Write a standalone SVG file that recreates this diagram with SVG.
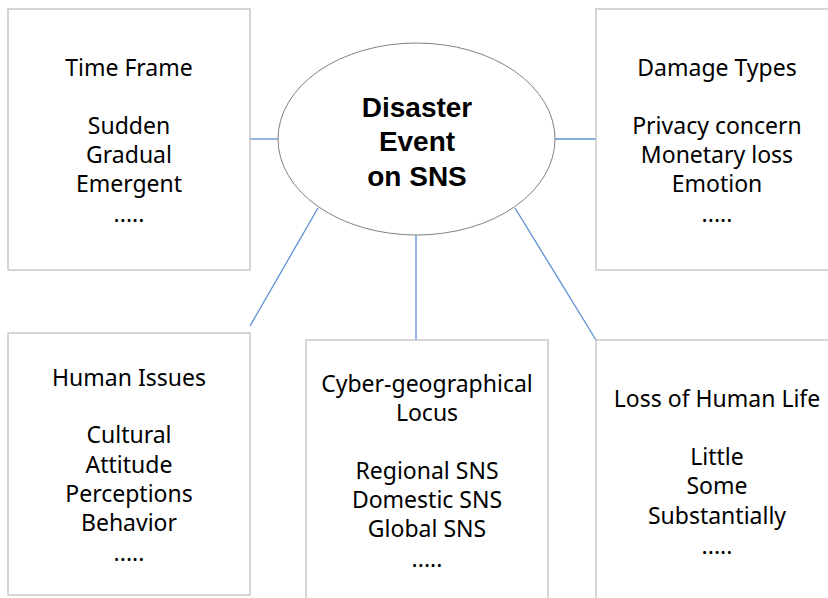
<svg xmlns="http://www.w3.org/2000/svg" width="828" height="598" viewBox="0 0 828 598">
<style>
.box{fill:#ffffff;stroke:#c0c0c0;stroke-width:1.3}
.t{font-family:"Noto Sans","Open Sans",sans-serif;font-size:23px;fill:#000;text-anchor:middle}
.b{font-family:"Liberation Sans",Arial,sans-serif;font-size:28px;font-weight:bold;fill:#000;text-anchor:middle}
.c{stroke:#5b8fd6;stroke-width:1.3;fill:none}
</style>
<rect width="828" height="598" fill="#ffffff"/>
<g id="connectors">
<line class="c" x1="250" y1="139" x2="278" y2="139"/>
<line class="c" x1="555" y1="139" x2="596" y2="139"/>
<line class="c" x1="318" y1="208" x2="250" y2="326"/>
<line class="c" x1="416" y1="235" x2="416" y2="340"/>
<line class="c" x1="515" y1="208" x2="596" y2="340"/>
</g>
<g id="center">
<ellipse cx="416.5" cy="139" rx="138.5" ry="96" fill="#ffffff" stroke="#808080" stroke-width="1"/>
<text class="b" x="417" y="117">Disaster</text>
<text class="b" x="417" y="151">Event</text>
<text class="b" x="417" y="186">on SNS</text>
</g>
<g id="time-frame">
<rect class="box" x="8" y="9" width="242" height="261"/>
<text class="t" x="129" y="76">Time Frame</text>
<text class="t" x="129" y="134">Sudden</text>
<text class="t" x="129" y="163">Gradual</text>
<text class="t" x="129" y="192">Emergent</text>
<text class="t" x="129" y="222">.....</text>
</g>
<g id="damage-types">
<rect class="box" x="596" y="9" width="242" height="261"/>
<text class="t" x="717" y="76">Damage Types</text>
<text class="t" x="717" y="134">Privacy concern</text>
<text class="t" x="717" y="163">Monetary loss</text>
<text class="t" x="717" y="192">Emotion</text>
<text class="t" x="717" y="222">.....</text>
</g>
<g id="human-issues">
<rect class="box" x="8" y="333" width="242" height="262"/>
<text class="t" x="129" y="386">Human Issues</text>
<text class="t" x="129" y="443">Cultural</text>
<text class="t" x="129" y="473">Attitude</text>
<text class="t" x="129" y="502">Perceptions</text>
<text class="t" x="129" y="531">Behavior</text>
<text class="t" x="129" y="561">.....</text>
</g>
<g id="cyber-locus">
<rect class="box" x="306" y="340" width="242" height="270"/>
<text class="t" x="427" y="392">Cyber-geographical</text>
<text class="t" x="427" y="421">Locus</text>
<text class="t" x="427" y="479">Regional SNS</text>
<text class="t" x="427" y="508">Domestic SNS</text>
<text class="t" x="427" y="537">Global SNS</text>
<text class="t" x="427" y="567">.....</text>
</g>
<g id="loss-of-life">
<rect class="box" x="596" y="340" width="242" height="270"/>
<text class="t" x="717" y="407">Loss of Human Life</text>
<text class="t" x="717" y="465">Little</text>
<text class="t" x="717" y="494">Some</text>
<text class="t" x="717" y="524">Substantially</text>
<text class="t" x="717" y="554">.....</text>
</g>
</svg>
